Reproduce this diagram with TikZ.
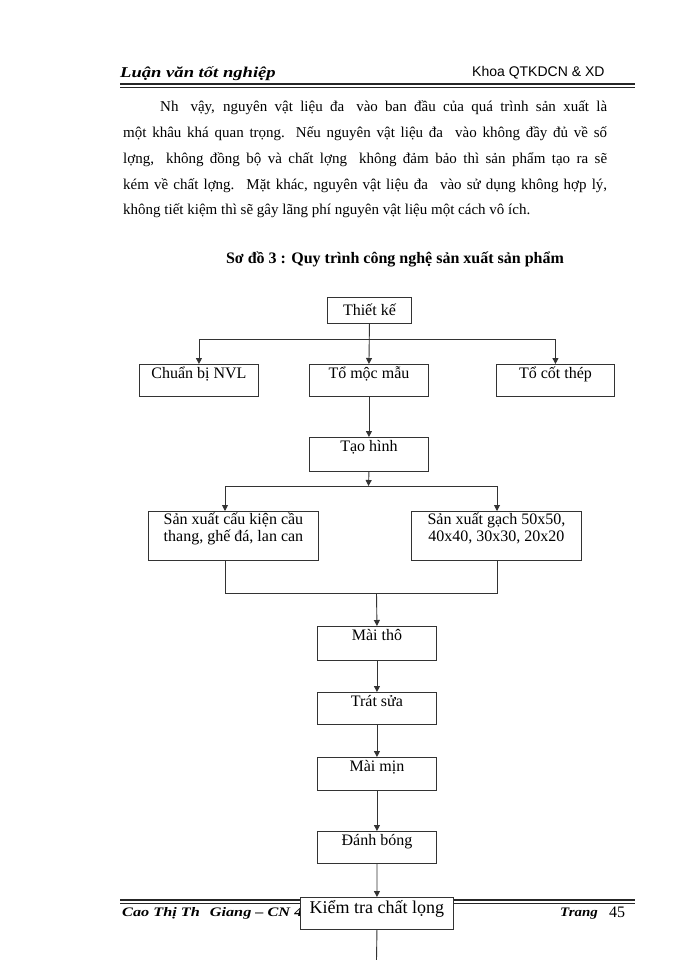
\documentclass[tikz,border=0pt]{standalone}
\usepackage{fontspec}
\setmainfont{Liberation Serif}
\newfontfamily\sansf{Liberation Sans}
\usetikzlibrary{arrows.meta}
\tikzset{
  box/.style={draw=black!80, line width=0.9bp, fill=white, inner sep=0pt, anchor=north west},
  boxtext/.style={inner sep=0pt, anchor=base, font=\fontsize{16bp}{18bp}\selectfont, align=center},
  boxtwo/.style={inner sep=0pt, anchor=north, font=\fontsize{16bp}{17bp}\selectfont, align=center},
  bodyline/.style={inner sep=0pt, anchor=base west, font=\fontsize{15bp}{18bp}\selectfont},
  conn/.style={draw=black!80, line width=0.9bp},
  arr/.style={conn, -{Triangle[length=6bp,width=6bp]}},
  rulethick/.style={line width=1.8bp, black!85},
  rulethin/.style={line width=0.8bp, black!85}
}
\newcommand{\gap}{\hspace{12bp}}
\begin{document}
\begin{tikzpicture}[x=1bp,y=-1bp]
\useasboundingbox (0,0) rectangle (700,960);
% header
\node[inner sep=0pt, anchor=base west, font=\fontsize{15bp}{18bp}\selectfont\bfseries\itshape] (hl) at (120,77) {\scalebox{1.24}[1]{Luận văn tốt nghiệp}};
\node[inner sep=0pt, anchor=base west, font=\fontsize{14bp}{17bp}\selectfont\sansf] (hr) at (472,76) {Khoa QTKDCN \& XD};
\draw[rulethick] (120,84) -- (635,84);
\draw[rulethin] (120,87) -- (635,87);
% paragraph
\node[bodyline] (p1) at (160,111) {\makebox[447bp][s]{Nh\gap vậy, nguyên vật liệu đa\gap vào ban đầu của quá trình sản xuất là}};
\node[bodyline] (p2) at (123,137) {\makebox[484bp][s]{một khâu khá quan trọng. Nếu nguyên vật liệu đa\gap vào không đầy đủ về số}};
\node[bodyline] (p3) at (123,163) {\makebox[484bp][s]{lợng,\gap không đồng bộ và chất lợng\gap không đảm bảo thì sản phẩm tạo ra sẽ}};
\node[bodyline] (p4) at (123,189) {\makebox[484bp][s]{kém về chất lợng.\gap Mặt khác, nguyên vật liệu đa\gap vào sử dụng không hợp lý,}};
\node[bodyline] (p5) at (123,214) {không tiết kiệm thì sẽ gây lãng phí nguyên vật liệu một cách vô ích.};
% title
\node[inner sep=0pt, anchor=base, font=\fontsize{16bp}{18bp}\selectfont\bfseries] (title) at (395,263) {Sơ đồ 3 : Quy trình công nghệ sản xuất sản phẩm};
% footer text (drawn before the box that covers it)
\draw[rulethick] (120,900) -- (635,900);
\draw[rulethin] (120,903) -- (635,903);
\node[inner sep=0pt, anchor=base west, font=\fontsize{13bp}{16bp}\selectfont\bfseries\itshape] (fl) at (122,916) {\scalebox{1.25}[1]{Cao Thị Th\hspace{8bp}Giang – CN 4}};
\node[inner sep=0pt, anchor=base west, font=\fontsize{13bp}{16bp}\selectfont\bfseries\itshape] (fr) at (560,916) {\scalebox{1.15}[1]{Trang}};
\node[inner sep=0pt, anchor=base west, font=\fontsize{16bp}{18bp}\selectfont] (pg) at (609,917) {45};
% boxes
\node[box, minimum width=84bp, minimum height=26bp] (tk) at (327,297) {};
\node[boxtext] (tkt) at ([yshift=-18bp]tk.north) {Thiết kế};
\node[box, minimum width=119bp, minimum height=32bp] (cb) at (139,364) {};
\node[boxtext] (cbt) at ([yshift=-14bp]cb.north) {Chuẩn bị NVL};
\node[box, minimum width=119bp, minimum height=32bp] (tmm) at (309,364) {};
\node[boxtext] (tmmt) at ([yshift=-14bp]tmm.north) {Tổ mộc mẫu};
\node[box, minimum width=118bp, minimum height=32bp] (tct) at (496,364) {};
\node[boxtext] (tctt) at ([yshift=-14bp]tct.north) {Tổ cốt thép};
\node[box, minimum width=119bp, minimum height=34bp] (th) at (309,437) {};
\node[boxtext] (tht) at ([yshift=-14bp]th.north) {Tạo hình};
\node[box, minimum width=170bp, minimum height=49bp] (sx1) at (148,511) {};
\node[boxtwo] (sx1t) at ([yshift=-2bp]sx1.north) {Sản xuất cấu kiện cầu\\thang, ghế đá, lan can};
\node[box, minimum width=170bp, minimum height=49bp] (sx2) at (411,511) {};
\node[boxtwo] (sx2t) at ([yshift=-2bp]sx2.north) {Sản xuất gạch 50x50,\\40x40, 30x30, 20x20};
\node[box, minimum width=119bp, minimum height=34bp] (mt) at (317,626) {};
\node[boxtext] (mtt) at ([yshift=-14bp]mt.north) {Mài thô};
\node[box, minimum width=119bp, minimum height=32bp] (ts) at (317,692) {};
\node[boxtext] (tst) at ([yshift=-14bp]ts.north) {Trát sửa};
\node[box, minimum width=119bp, minimum height=33bp] (mm) at (317,757) {};
\node[boxtext] (mmt) at ([yshift=-14bp]mm.north) {Mài mịn};
\node[box, minimum width=119bp, minimum height=32bp] (db) at (317,831) {};
\node[boxtext] (dbt) at ([yshift=-14bp]db.north) {Đánh bóng};
\node[box, minimum width=153bp, minimum height=32bp] (kt) at (300,897) {};
\node[boxtext, font=\fontsize{18bp}{20bp}\selectfont] (ktt) at ([yshift=-16bp]kt.north) {Kiểm tra chất lọng};
% junction coordinates
\coordinate (j1) at (369,339);
\coordinate (j2) at (368.5,486);
\coordinate (j2l) at (225,486);
\coordinate (j2r) at (497,486);
\coordinate (j3) at (376.5,593);
\coordinate (j3l) at (225,593);
\coordinate (j3r) at (497,593);
\coordinate (bot) at (376.5,960);
% connectors
\draw[arr] (tk.south) -- (tmm.north);
\draw[conn] (cb.north |- j1) -- (tct.north |- j1);
\draw[arr] (cb.north |- j1) -- (cb.north);
\draw[arr] (tct.north |- j1) -- (tct.north);
\draw[arr] (tmm.south) -- (th.north);
\draw[arr] (th.south) -- (j2);
\draw[conn] (j2l) -- (j2r);
\draw[arr] (j2l) -- (j2l |- sx1.north);
\draw[arr] (j2r) -- (j2r |- sx2.north);
\draw[conn] (j3l |- sx1.south) -- (j3l) -- (j3r) -- (j3r |- sx2.south);
\draw[arr] (j3) -- (mt.north);
\draw[arr] (mt.south) -- (ts.north);
\draw[arr] (ts.south) -- (mm.north);
\draw[arr] (mm.south) -- (db.north);
\draw[arr] (db.south) -- (kt.north);
\draw[conn] (kt.south) -- (bot);
\end{tikzpicture}
\end{document}
